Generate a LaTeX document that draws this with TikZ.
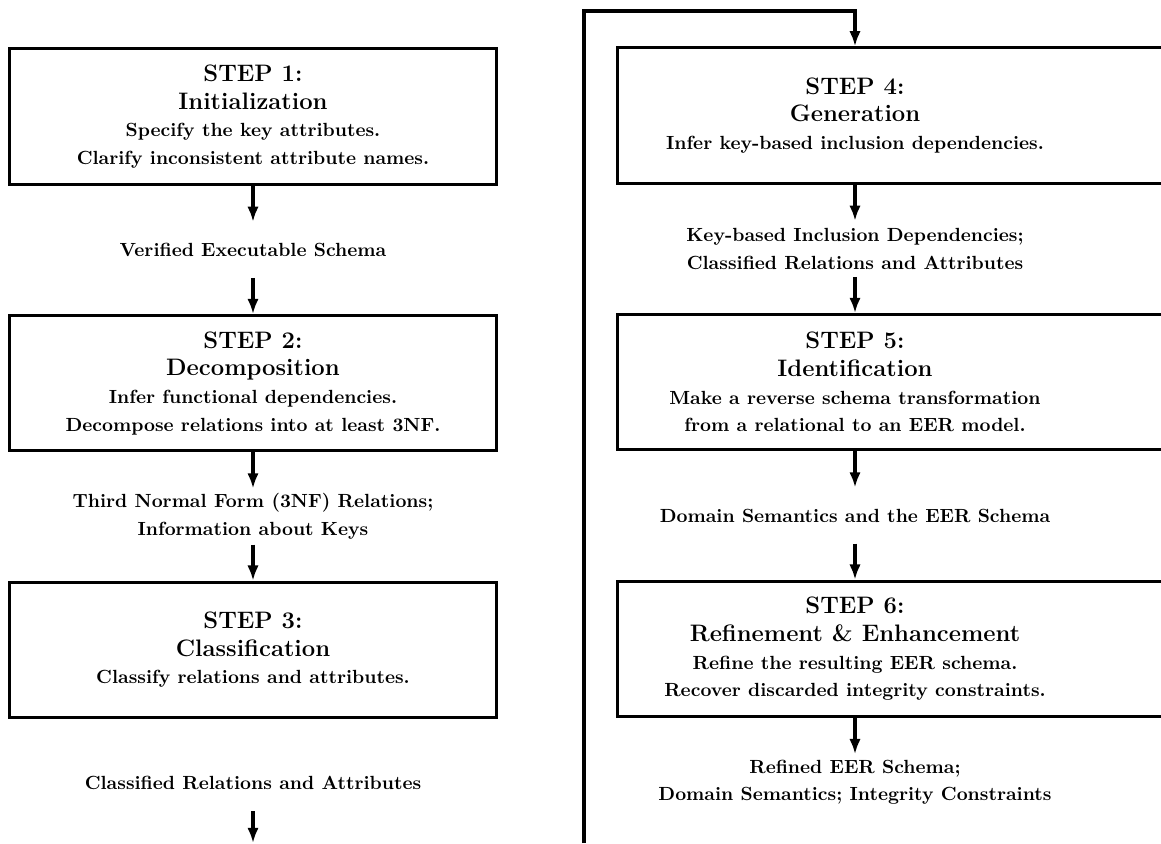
\documentclass[tikz,border=0pt]{standalone}
\usepackage{amsmath}
\usepackage{tikz}
\usetikzlibrary{arrows.meta,positioning}

\newcommand{\headfont}{\fontseries{bx}\fontsize{12.5}{14.5}\selectfont}
\newcommand{\stephead}[2]{{\headfont STEP #1:}\\{\headfont #2}}

\begin{document}
\begin{tikzpicture}[x=0.525pt, y=-0.525pt, node distance=70pt, on grid,
    font=\fontseries{bx}\fontsize{10}{14.5}\selectfont,
    stepbox/.style={draw, line width=1.6pt, minimum width=256pt, minimum height=71pt, inner sep=0pt, align=center},
    widebox/.style={draw, line width=1.6pt, minimum width=296pt, minimum height=71pt, inner sep=0pt},
    intext/.style={align=center, inner sep=0pt},
    result/.style={align=center, minimum height=29pt, inner sep=0pt},
    flow/.style={-{Latex[length=8pt,width=6pt]}, line width=1.6pt}]
    \useasboundingbox (0,0) rectangle (1161,843);

    % left column
    \node[stepbox] (s1) at (253,116.5) {\stephead{1}{Initialization}\\Specify the key attributes.\\Clarify inconsistent attribute names.};
    \node[result] (r1) [below=of s1] {Verified Executable Schema};
    \node[stepbox] (s2) [below=of r1] {\stephead{2}{Decomposition}\\Infer functional dependencies.\\Decompose relations into at least 3NF.};
    \node[result] (r2) [below=of s2] {Third Normal Form (3NF) Relations;\\Information about Keys};
    \node[stepbox] (s3) [below=of r2] {\stephead{3}{Classification}\\Classify relations and attributes.};
    \node[result] (r3) [below=of s3] {Classified Relations and Attributes};
    \coordinate (out) at (253,843);

    % right column (boxes run off the page)
    \node[intext] (t4) at (855,115.5) {\stephead{4}{Generation}\\Infer key-based inclusion dependencies.};
    \node[widebox] (s4) at (899.5,115.5) {};
    \node[result] (r4) [below=of t4] {Key-based Inclusion Dependencies;\\Classified Relations and Attributes};
    \node[intext] (t5) [below=of r4] {\stephead{5}{Identification}\\Make a reverse schema transformation\\from a relational to an EER model.};
    \node[widebox] (s5) at (s4 |- t5) {};
    \node[result] (r5) [below=of t5] {Domain Semantics and the EER Schema};
    \node[intext] (t6) [below=of r5] {\stephead{6}{Refinement \& Enhancement}\\Refine the resulting EER schema.\\Recover discarded integrity constraints.};
    \node[widebox] (s6) at (s4 |- t6) {};
    \node[result] (r6) [below=of t6] {Refined EER Schema;\\Domain Semantics; Integrity Constraints};
    \coordinate (loopin) at (584,843);
    \coordinate (turn) at (855,11);

    \path[flow]
     (s1) edge (r1)
     (r1) edge (s2)
     (s2) edge (r2)
     (r2) edge (s3)
     (r3) edge (out)
     (s4.south -| t4) edge (r4)
     (r4) edge (s5.north -| t5)
     (s5.south -| t5) edge (r5)
     (r5) edge (s6.north -| t6)
     (s6.south -| t6) edge (r6);
    \draw[flow] (loopin) |- (turn) -- (s4.north -| t4);
\end{tikzpicture}
\end{document}
